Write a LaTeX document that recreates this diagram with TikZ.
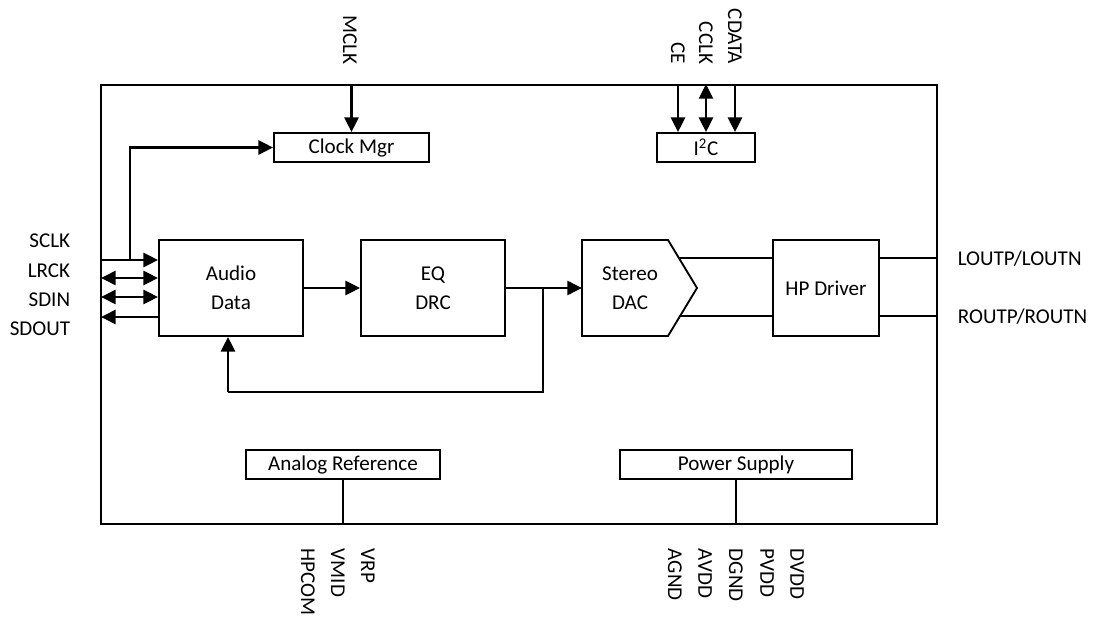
\documentclass[tikz,border=0pt]{standalone}
\usepackage{fontspec}
\setmainfont{Carlito}
\usetikzlibrary{arrows.meta}

\tikzset{every picture/.style={line width=0.75pt}}
\tikzset{
  blk/.style={draw, line width=1.4pt, inner sep=0pt, align=center},
  pin/.style={inner sep=1pt},
  vpin/.style={inner sep=1pt, rotate=-90},
  sig/.style={line width=1.9pt, -{Triangle[length=11pt,width=10.5pt]}},
  bisig/.style={line width=1.9pt, {Triangle[length=11pt,width=10.5pt]}-{Triangle[length=11pt,width=10.5pt]}},
  wire/.style={line width=1.3pt}
}

\begin{document}
\begin{tikzpicture}[x=0.75pt,y=0.75pt,yscale=-1,xscale=1,font=\fontsize{15.8}{22}\selectfont]
	\useasboundingbox (0,0) rectangle (1096,620);

	%Chip outline
	\node (chip) [blk, minimum width=627pt, minimum height=329.25pt] at (519,304.5) {};

	%Blocks
	\node (clk) [blk, minimum width=116.25pt, minimum height=21.75pt] at (351.5,147.5) {Clock Mgr};
	\node (i2c) [blk, minimum width=73.5pt, minimum height=21.75pt] at (706,147.5) {I\textsuperscript{2}C};
	\node (audio) [blk, minimum width=108pt, minimum height=72pt] at (231,288) {Audio\\Data};
	\node (eq) [blk, minimum width=108pt, minimum height=72pt] at (433,288) {EQ\\DRC};
	\node (dac) [align=center, inner sep=0pt] at (630,288) {Stereo\\DAC};
	\node (hp) [blk, minimum width=79.5pt, minimum height=72pt] at (826,288) {HP Driver};
	\node (aref) [blk, minimum width=145.5pt, minimum height=21.75pt] at (343,464.5) {Analog Reference};
	\node (pwr) [blk, minimum width=174pt, minimum height=21.75pt] at (736,464.5) {Power Supply};

	%Shape: DAC pentagon
	\draw [line width=1.4pt] (582,240) -- (668,240) -- (697,288) -- (668,336) -- (582,336) -- cycle ;

	% Text Node
	\node (sclk) [pin, anchor=east] at (72,241) {SCLK};
	\node (lrck) [pin, anchor=east] at (72,271) {LRCK};
	\node (sdin) [pin, anchor=east] at (72,300) {SDIN};
	\node (sdout) [pin, anchor=east] at (72,329) {SDOUT};
	\node (lout) [pin, anchor=west] at (956,259) {LOUTP/LOUTN};
	\node (rout) [pin, anchor=west] at (956,317) {ROUTP/ROUTN};
	\node (mclk) [vpin, anchor=east] at (350,66) {MCLK};
	\node (ce) [vpin, anchor=east] at (678,66) {CE};
	\node (cclk) [vpin, anchor=east] at (706,66) {CCLK};
	\node (cdata) [vpin, anchor=east] at (735,66) {CDATA};
	\node (hpcom) [vpin, anchor=west] at (308,547) {HPCOM};
	\node (vmid) [vpin, anchor=west] at (338,547) {VMID};
	\node (vrp) [vpin, anchor=west] at (368,547) {VRP};
	\node (agnd) [vpin, anchor=west] at (675,547) {AGND};
	\node (avdd) [vpin, anchor=west] at (705,547) {AVDD};
	\node (dgnd) [vpin, anchor=west] at (736,547) {DGND};
	\node (pvdd) [vpin, anchor=west] at (767,547) {PVDD};
	\node (dvdd) [vpin, anchor=west] at (797,547) {DVDD};

	%Coordinates
	\coordinate (sclkin) at (101,260);
	\coordinate (lrckio) at (101,278);
	\coordinate (sdinio) at (101,297);
	\coordinate (sdoutio) at (101,317);
	\coordinate (clkbr) at (130,260);
	\coordinate (fbbr) at (543,288);
	\coordinate (fbcorner) at (543,392);
	\coordinate (fbleft) at (228,392);
	\coordinate (dactop) at (679,258);
	\coordinate (dacbot) at (680,316);
	\coordinate (loutpin) at (937,258);
	\coordinate (routpin) at (937,316);

	%Straight Lines: serial audio port
	\draw [sig] (sclkin) -- (sclkin -| audio.west) ;
	\draw [bisig] (lrckio) -- (lrckio -| audio.west) ;
	\draw [bisig] (sdinio) -- (sdinio -| audio.west) ;
	\draw [sig] (sdoutio -| audio.west) -- (sdoutio) ;
	\draw [sig] (clkbr) |- (clk.west) ;

	%Straight Lines: control inputs
	\draw [sig] (chip.north -| clk.north) -- (clk.north) ;
	\draw [sig] (chip.north -| ce) -- (i2c.north -| ce) ;
	\draw [bisig] (chip.north -| cclk) -- (i2c.north -| cclk) ;
	\draw [sig] (chip.north -| cdata) -- (i2c.north -| cdata) ;

	%Straight Lines: data path
	\draw [sig] (audio.east) -- (eq.west) ;
	\draw [sig] (eq.east) -- (582,288) ;
	\draw [wire] (fbbr) -- (fbcorner) -- (fbleft) ;
	\draw [sig] (fbleft) -- (fbleft |- audio.south) ;

	%Straight Lines: outputs
	\draw [wire] (dactop) -- (dactop -| hp.west) ;
	\draw [wire] (dacbot) -- (dacbot -| hp.west) ;
	\draw [wire] (loutpin -| hp.east) -- (loutpin) ;
	\draw [wire] (routpin -| hp.east) -- (routpin) ;

	%Straight Lines: supply and reference
	\draw [wire] (aref.south) -- (aref.south |- chip.south) ;
	\draw [wire] (pwr.south) -- (pwr.south |- chip.south) ;

\end{tikzpicture}
\end{document}
